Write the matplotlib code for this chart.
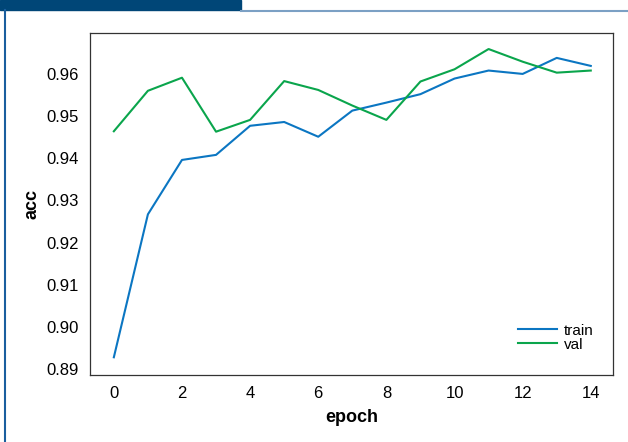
import matplotlib.pyplot as plt
from matplotlib import patches, lines

epochs = list(range(15))
train_acc = [0.8928, 0.9267, 0.9396, 0.9408, 0.9477, 0.9486, 0.9451, 0.9513,
             0.9532, 0.9552, 0.9589, 0.9608, 0.9600, 0.9638, 0.9619]
val_acc = [0.9464, 0.9560, 0.9591, 0.9463, 0.9491, 0.9583, 0.9562, 0.9525,
           0.9491, 0.9582, 0.9611, 0.9659, 0.9629, 0.9603, 0.9608]
y_ticks = [0.89, 0.90, 0.91, 0.92, 0.93, 0.94, 0.95, 0.96]
x_ticks = [0, 2, 4, 6, 8, 10, 12, 14]

plt.rcParams['font.family'] = ['Liberation Sans', 'DejaVu Sans']

fig = plt.figure(figsize=(6.28, 4.42), dpi=100)
ax = fig.add_axes([0.1433, 0.1516, 0.8327, 0.7737])

ax.plot(epochs, train_acc, color='#0b76c2', linewidth=1.5, label='train')
ax.plot(epochs, val_acc, color='#0aa54c', linewidth=1.5, label='val')

ax.set_xlim(-0.7, 14.65)
ax.set_ylim(0.8886, 0.9697)
ax.set_xticks(x_ticks)
ax.set_yticks(y_ticks)
ax.set_yticklabels([f"{v:.2f}" for v in y_ticks])
ax.tick_params(length=0, labelsize=12, pad=8)
for s in ax.spines.values():
    s.set_color('#333333')
    s.set_linewidth(0.9)

ax.set_xlabel('epoch', fontsize=13, fontweight='bold', labelpad=6)
ax.set_ylabel('acc', fontsize=13, fontweight='bold', labelpad=4)
ax.legend(loc='lower right', frameon=False, fontsize=11, handlelength=2.5,
          handletextpad=0.5, labelspacing=0.0, bbox_to_anchor=(0.99, 0.028))

# page decoration: banner, top rule and left rule
W, H = 628, 442
fig.patches.append(patches.Rectangle((0, 1 - 10 / H), 241 / W, 10 / H,
                                     transform=fig.transFigure, color='#004677'))
fig.lines.append(lines.Line2D([241 / W, 1], [1 - 10.5 / H, 1 - 10.5 / H],
                              transform=fig.transFigure, color='#7ba0c4', linewidth=1.5))
fig.lines.append(lines.Line2D([4.5 / W, 4.5 / W], [0, 1 - 10 / H],
                              transform=fig.transFigure, color='#1a5e9e', linewidth=1.5))

fig.savefig('out.png', dpi=100)
